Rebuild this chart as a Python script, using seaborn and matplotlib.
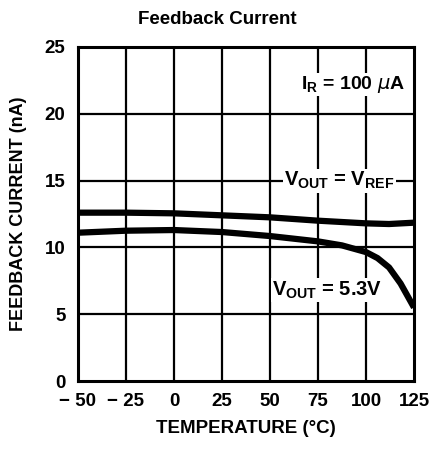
import matplotlib
matplotlib.use("Agg")
import matplotlib.pyplot as plt
import seaborn as sns
import pandas as pd

temps_ref = [-50, -25, 0, 25, 50, 75, 100, 112, 125]
i_vref = [12.6, 12.6, 12.55, 12.4, 12.25, 12.0, 11.8, 11.75, 11.85]
temps_53 = [-50, -25, 0, 25, 50, 62.5, 75, 87.5, 100, 106, 112, 118, 125]
i_v53 = [11.1, 11.25, 11.3, 11.15, 10.85, 10.65, 10.45, 10.15, 9.65, 9.2, 8.5, 7.3, 5.5]
xticks = [-50, -25, 0, 25, 50, 75, 100, 125]
xtick_labels = ["\u2212 50", "\u2212 25", "0", "25", "50", "75", "100", "125"]
yticks = [0, 5, 10, 15, 20, 25]

sns.set_theme(style="white", rc={"text.color": "black", "axes.labelcolor": "black",
                                 "xtick.color": "black", "ytick.color": "black"})
FONT = ["Liberation Sans", "DejaVu Sans"]
plt.rcParams["font.family"] = FONT
plt.rcParams["mathtext.default"] = "regular"

df = pd.concat([
    pd.DataFrame({"T": temps_ref, "I": i_vref, "s": "vref"}),
    pd.DataFrame({"T": temps_53, "I": i_v53, "s": "v53"}),
])

fig = plt.figure(figsize=(4.35, 4.54), dpi=100)
ax = fig.add_axes([78 / 435, 1 - 381 / 454, (414 - 78) / 435, (381 - 47) / 454])

for x in xticks[1:-1]:
    ax.axvline(x, color="black", lw=1.6, zorder=1)
for y in yticks[1:-1]:
    ax.axhline(y, color="black", lw=1.6, zorder=1)

for name, sub in df.groupby("s"):
    sns.lineplot(data=sub, x="T", y="I", estimator=None, sort=True, color="black",
                 lw=4.5, ax=ax, zorder=3, legend=False, solid_capstyle="butt")

ax.set_xlim(-50, 125)
ax.set_ylim(0, 25)
ax.set_xticks(xticks)
ax.set_xticklabels(xtick_labels)
ax.set_yticks(yticks)
for sp in ax.spines.values():
    sp.set_color("black")
    sp.set_linewidth(2.2)
ax.tick_params(axis="both", length=0, pad=9, labelsize=13.5, labelcolor="black")
for lab in ax.get_xticklabels() + ax.get_yticklabels():
    lab.set_fontweight("bold")
ax.set_xlabel("TEMPERATURE (°C)", fontsize=13.5, fontweight="bold", labelpad=7)
ax.set_ylabel("FEEDBACK CURRENT (nA)", fontsize=13, fontweight="bold", labelpad=13)

fig.text(0.5, 1 - 20 / 454, "Feedback Current", ha="center", va="center",
         fontsize=13.5, fontweight="bold")

bbox = dict(facecolor="white", edgecolor="none", pad=1)
ax.text(93, 22.2, r"I$_\mathregular{R}$ = 100 $\mathit{\mu}$A", ha="center", va="center",
        fontsize=14, fontweight="bold", bbox=bbox, zorder=4)
ax.text(86, 15.0, r"V$_\mathregular{OUT}$ = V$_\mathregular{REF}$", ha="center", va="center",
        fontsize=14.5, fontweight="bold", bbox=bbox, zorder=4)
ax.text(51, 6.8, r"V$_\mathregular{OUT}$ = 5.3V", ha="left", va="center",
        fontsize=14.5, fontweight="bold", bbox=bbox, zorder=4)

fig.savefig("out.png", dpi=100, facecolor="white")
